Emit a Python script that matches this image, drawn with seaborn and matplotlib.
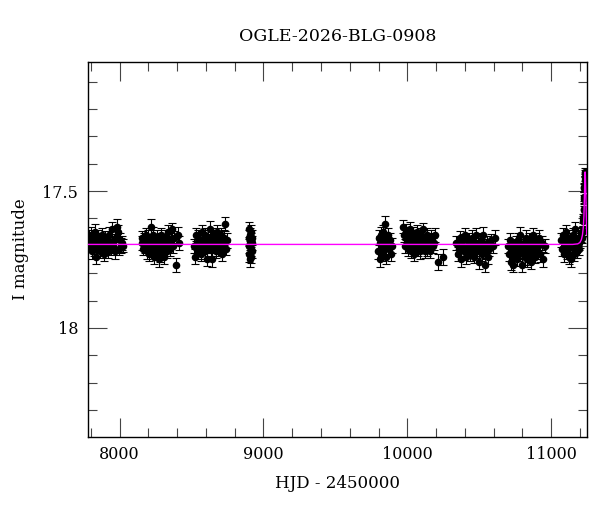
import numpy as np
import pandas as pd
import matplotlib
matplotlib.use("Agg")
import matplotlib.pyplot as plt
from matplotlib.ticker import MultipleLocator, FuncFormatter
import seaborn as sns

# Sezony obserwacyjne (HJD - 2450000, magnituda I, blad)
t1 = [7786, 7792, 7799, 7805, 7811, 7818, 7824, 7830, 7837, 7843, 7850, 7856, 7862, 7869, 7875, 7881, 7888, 7894, 7901, 7907,
      7914, 7920, 7927, 7933, 7940, 7946, 7953, 7960, 7967, 7974, 7981, 7988, 7995, 8002, 8010, 8018, 8026]
m1 = [17.67, 17.70, 17.66, 17.69, 17.72, 17.68, 17.71, 17.65, 17.74, 17.69, 17.67, 17.70, 17.72, 17.68, 17.66, 17.71, 17.69, 17.73, 17.67, 17.70,
      17.68, 17.72, 17.66, 17.69, 17.71, 17.64, 17.70, 17.68, 17.72, 17.67, 17.63, 17.65, 17.71, 17.68, 17.70, 17.69, 17.70]
e1 = [0.026, 0.024, 0.028, 0.025, 0.027, 0.023, 0.026, 0.029, 0.025, 0.024, 0.027, 0.026, 0.023, 0.028, 0.025, 0.026, 0.024, 0.027, 0.025, 0.029,
      0.024, 0.026, 0.028, 0.025, 0.023, 0.027, 0.026, 0.024, 0.028, 0.025, 0.027, 0.026, 0.024, 0.025, 0.028, 0.026, 0.024]

t2 = [8152, 8158, 8163, 8169, 8175, 8181, 8187, 8193, 8199, 8205, 8211, 8217, 8223, 8229, 8235, 8241, 8247, 8253, 8259, 8265,
      8271, 8277, 8283, 8289, 8295, 8301, 8308, 8315, 8322, 8329, 8336, 8343, 8350, 8357, 8364, 8372, 8380, 8395, 8408, 8416]
m2 = [17.69, 17.67, 17.71, 17.68, 17.70, 17.66, 17.72, 17.69, 17.67, 17.73, 17.70, 17.63, 17.68, 17.71, 17.66, 17.74, 17.69, 17.72, 17.67, 17.70,
      17.75, 17.68, 17.73, 17.66, 17.71, 17.69, 17.74, 17.67, 17.70, 17.72, 17.65, 17.69, 17.71, 17.68, 17.64, 17.70, 17.67, 17.77, 17.66, 17.69]
e2 = [0.027, 0.025, 0.024, 0.028, 0.026, 0.025, 0.029, 0.024, 0.027, 0.026, 0.025, 0.028, 0.024, 0.026, 0.027, 0.025, 0.023, 0.028, 0.026, 0.024,
      0.027, 0.025, 0.029, 0.026, 0.024, 0.027, 0.025, 0.028, 0.026, 0.024, 0.025, 0.027, 0.026, 0.028, 0.024, 0.026, 0.025, 0.027, 0.029, 0.026]

t3 = [8518, 8524, 8530, 8536, 8542, 8548, 8554, 8560, 8566, 8572, 8578, 8584, 8590, 8596, 8602, 8608, 8614, 8620, 8626, 8632,
      8638, 8644, 8650, 8656, 8662, 8668, 8674, 8680, 8686, 8692, 8698, 8704, 8710, 8717, 8724, 8731, 8738, 8746]
m3 = [17.70, 17.74, 17.66, 17.69, 17.72, 17.67, 17.71, 17.68, 17.73, 17.65, 17.70, 17.68, 17.72, 17.66, 17.69, 17.75, 17.67, 17.70, 17.64, 17.71,
      17.68, 17.75, 17.66, 17.70, 17.67, 17.72, 17.69, 17.65, 17.71, 17.68, 17.70, 17.66, 17.73, 17.69, 17.67, 17.62, 17.71, 17.68]
e3 = [0.026, 0.028, 0.024, 0.025, 0.027, 0.026, 0.023, 0.028, 0.025, 0.027, 0.024, 0.026, 0.028, 0.025, 0.027, 0.024, 0.026, 0.025, 0.029, 0.026,
      0.024, 0.027, 0.025, 0.028, 0.026, 0.024, 0.027, 0.025, 0.026, 0.028, 0.024, 0.026, 0.027, 0.025, 0.028, 0.026, 0.024, 0.027]

t4 = [8896, 8898, 8900, 8902, 8904, 8906, 8908, 8910, 8912, 8914, 8916, 8918, 8920, 8922]
m4 = [17.64, 17.70, 17.67, 17.73, 17.66, 17.69, 17.75, 17.68, 17.71, 17.65, 17.74, 17.69, 17.72, 17.67]
e4 = [0.027, 0.025, 0.026, 0.028, 0.024, 0.026, 0.027, 0.025, 0.028, 0.026, 0.024, 0.027, 0.025, 0.026]

t5 = [9798, 9803, 9808, 9813, 9818, 9823, 9828, 9833, 9838, 9843, 9848, 9853, 9858, 9863, 9870, 9878, 9887, 9896]
m5 = [17.72, 17.67, 17.75, 17.69, 17.66, 17.73, 17.70, 17.65, 17.71, 17.68, 17.62, 17.74, 17.69, 17.66, 17.71, 17.68, 17.73, 17.70]
e5 = [0.028, 0.026, 0.027, 0.025, 0.029, 0.026, 0.024, 0.027, 0.028, 0.025, 0.030, 0.026, 0.027, 0.025, 0.028, 0.026, 0.024, 0.027]

t6 = [9972, 9978, 9984, 9990, 9996, 10002, 10008, 10014, 10020, 10026, 10032, 10038, 10044, 10050, 10056, 10062, 10068, 10074, 10080, 10086,
      10092, 10098, 10104, 10110, 10116, 10122, 10128, 10134, 10140, 10146, 10152, 10160, 10168, 10176, 10185, 10194, 10215, 10250]
m6 = [17.63, 17.66, 17.70, 17.65, 17.68, 17.71, 17.67, 17.69, 17.64, 17.72, 17.68, 17.66, 17.70, 17.73, 17.67, 17.69, 17.65, 17.71, 17.68, 17.72,
      17.66, 17.70, 17.67, 17.64, 17.69, 17.72, 17.68, 17.71, 17.66, 17.70, 17.68, 17.72, 17.67, 17.70, 17.69, 17.66, 17.76, 17.74]
e6 = [0.025, 0.027, 0.026, 0.028, 0.024, 0.026, 0.027, 0.025, 0.028, 0.026, 0.024, 0.027, 0.025, 0.026, 0.028, 0.024, 0.026, 0.027, 0.025, 0.029,
      0.026, 0.024, 0.027, 0.025, 0.028, 0.026, 0.024, 0.027, 0.025, 0.026, 0.028, 0.024, 0.026, 0.027, 0.025, 0.026, 0.030, 0.029]

t7 = [10342, 10349, 10356, 10363, 10370, 10377, 10384, 10391, 10398, 10405, 10412, 10419, 10426, 10433, 10440, 10447, 10454, 10461, 10468, 10475,
      10482, 10489, 10496, 10503, 10510, 10517, 10524, 10531, 10538, 10545, 10553, 10561, 10570, 10580, 10595, 10612]
m7 = [17.69, 17.73, 17.71, 17.67, 17.75, 17.70, 17.68, 17.72, 17.66, 17.74, 17.70, 17.72, 17.68, 17.73, 17.69, 17.67, 17.71, 17.74, 17.70, 17.66,
      17.72, 17.69, 17.76, 17.71, 17.68, 17.73, 17.66, 17.70, 17.77, 17.72, 17.69, 17.74, 17.71, 17.68, 17.70, 17.67]
e7 = [0.026, 0.024, 0.027, 0.025, 0.028, 0.026, 0.024, 0.027, 0.025, 0.026, 0.028, 0.024, 0.026, 0.027, 0.025, 0.029, 0.026, 0.024, 0.027, 0.025,
      0.026, 0.028, 0.024, 0.026, 0.027, 0.025, 0.028, 0.026, 0.024, 0.027, 0.025, 0.026, 0.028, 0.024, 0.026, 0.027]

t8 = [10702, 10708, 10714, 10720, 10726, 10732, 10738, 10744, 10750, 10756, 10762, 10768, 10774, 10780, 10786, 10792, 10798, 10804, 10810, 10816,
      10822, 10828, 10834, 10840, 10846, 10852, 10858, 10864, 10870, 10876, 10882, 10888, 10894, 10900, 10908, 10916, 10924, 10934, 10946, 10960]
m8 = [17.70, 17.73, 17.68, 17.76, 17.71, 17.77, 17.74, 17.70, 17.72, 17.69, 17.75, 17.68, 17.71, 17.73, 17.66, 17.70, 17.77, 17.72, 17.69, 17.74,
      17.67, 17.71, 17.75, 17.70, 17.68, 17.73, 17.76, 17.69, 17.72, 17.66, 17.71, 17.74, 17.68, 17.72, 17.70, 17.67, 17.73, 17.69, 17.75, 17.70]
e8 = [0.025, 0.027, 0.026, 0.028, 0.024, 0.026, 0.027, 0.025, 0.028, 0.026, 0.024, 0.027, 0.025, 0.026, 0.028, 0.024, 0.026, 0.027, 0.025, 0.029,
      0.026, 0.024, 0.027, 0.025, 0.028, 0.026, 0.024, 0.027, 0.025, 0.026, 0.028, 0.024, 0.026, 0.027, 0.025, 0.026, 0.028, 0.024, 0.027, 0.025]

t9 = [11072, 11078, 11084, 11090, 11096, 11102, 11108, 11114, 11120, 11126, 11132, 11138, 11144, 11150, 11156, 11162, 11168, 11174, 11180, 11186,
      11192, 11197, 11202, 11207]
m9 = [17.68, 17.71, 17.66, 17.73, 17.69, 17.65, 17.72, 17.70, 17.67, 17.74, 17.69, 17.75, 17.68, 17.66, 17.71, 17.73, 17.64, 17.70, 17.72, 17.67,
      17.69, 17.71, 17.68, 17.66]
e9 = [0.025, 0.027, 0.026, 0.028, 0.024, 0.026, 0.027, 0.025, 0.028, 0.026, 0.024, 0.027, 0.025, 0.026, 0.028, 0.024, 0.026, 0.027, 0.025, 0.029,
      0.026, 0.024, 0.027, 0.025]

# wzrost jasnosci na koncu
t10 = [11212, 11216, 11219, 11222, 11224, 11226, 11228, 11229, 11230, 11231, 11232, 11233, 11234, 11235, 11236]
m10 = [17.67, 17.65, 17.645, 17.61, 17.60, 17.57, 17.565, 17.53, 17.52, 17.49, 17.485, 17.46, 17.45, 17.435, 17.43]
e10 = [0.020, 0.019, 0.018, 0.018, 0.017, 0.016, 0.017, 0.015, 0.016, 0.015, 0.014, 0.015, 0.014, 0.013, 0.014]

# model (krzywa Paczynskiego)
model_t = [7780, 11150, 11185, 11200, 11210, 11218, 11224, 11228, 11231, 11234, 11236, 11238, 11241, 11244, 11248]
model_mag = [17.695, 17.695, 17.693, 17.688, 17.678, 17.66, 17.63, 17.59, 17.53, 17.46, 17.43, 17.44, 17.50, 17.58, 17.66]

seasons = [(t1, m1, e1), (t2, m2, e2), (t3, m3, e3), (t4, m4, e4), (t5, m5, e5),
           (t6, m6, e6), (t7, m7, e7), (t8, m8, e8), (t9, m9, e9), (t10, m10, e10)]
df = pd.concat([pd.DataFrame({'hjd': t, 'mag': m, 'err': e}) for t, m, e in seasons], ignore_index=True)
model = pd.DataFrame({'hjd': model_t, 'mag': model_mag})

sns.set_style('ticks')
plt.rcParams['font.family'] = ['DejaVu Serif']
plt.rcParams['text.color'] = 'black'
plt.rcParams['axes.labelcolor'] = 'black'
plt.rcParams['xtick.labelcolor'] = 'black'
plt.rcParams['ytick.labelcolor'] = 'black'

fig = plt.figure(figsize=(6, 5.12), dpi=100)
ax = fig.add_axes([0.1467, 0.147, 0.8313, 0.732])

ax.errorbar(df['hjd'], df['mag'], yerr=df['err'], fmt='none', ecolor='black',
            elinewidth=0.8, capsize=2.8, capthick=0.8, zorder=2)
sns.scatterplot(data=df, x='hjd', y='mag', color='black', s=30, linewidth=0, zorder=3, ax=ax)
sns.lineplot(data=model, x='hjd', y='mag', color='magenta', linewidth=1, sort=False, zorder=4, ax=ax)

ax.set_xlim(7780, 11248)
ax.set_ylim(18.398, 17.028)
ax.xaxis.set_major_locator(MultipleLocator(1000))
ax.xaxis.set_minor_locator(MultipleLocator(200))
ax.yaxis.set_major_locator(MultipleLocator(0.5))
ax.yaxis.set_minor_locator(MultipleLocator(0.1))
ax.yaxis.set_major_formatter(FuncFormatter(lambda v, p: '%g' % v))
ax.tick_params(which='both', direction='in', top=True, right=True, labelsize=11.5, width=0.8,
               color='#444444', labelcolor='black')
ax.tick_params(which='major', length=13.5, pad=7)
ax.tick_params(which='minor', length=6.5)
for s in ax.spines.values():
    s.set_linewidth(1)
    s.set_color('black')

ax.set_title('OGLE-2026-BLG-0908', fontsize=12.5, pad=15, color='black')
ax.set_xlabel('HJD - 2450000', fontsize=12, labelpad=8, color='black')
ax.set_ylabel('I magnitude', fontsize=12, labelpad=10, color='black')

fig.savefig('out.png', dpi=100)
